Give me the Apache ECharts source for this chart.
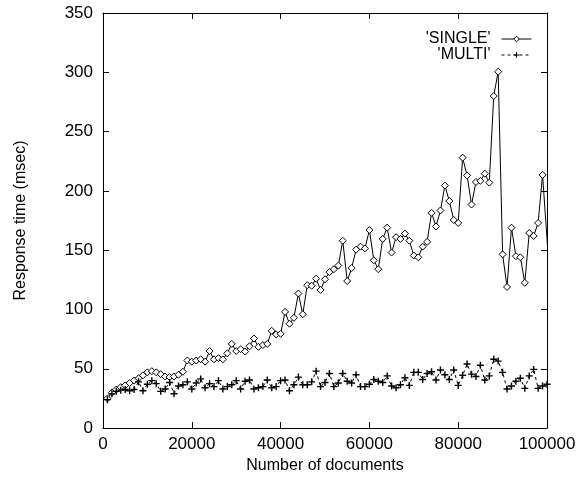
<!DOCTYPE html>
<html>
<head>
<meta charset="utf-8">
<script src="https://cdn.jsdelivr.net/npm/echarts@6/dist/echarts.min.js"></script>
<style>
  html, body { margin: 0; padding: 0; background: #fff; }
  #chart { width: 583px; height: 479px; }
</style>
</head>
<body>
<div id="chart"></div>
<script>
// 文档数量（横轴），每 1000 一个采样点
const docCounts = [
  1000, 2000, 3000, 4000, 5000, 6000, 7000, 8000, 9000, 10000,
  11000, 12000, 13000, 14000, 15000, 16000, 17000, 18000, 19000, 20000,
  21000, 22000, 23000, 24000, 25000, 26000, 27000, 28000, 29000, 30000,
  31000, 32000, 33000, 34000, 35000, 36000, 37000, 38000, 39000, 40000,
  41000, 42000, 43000, 44000, 45000, 46000, 47000, 48000, 49000, 50000,
  51000, 52000, 53000, 54000, 55000, 56000, 57000, 58000, 59000, 60000,
  61000, 62000, 63000, 64000, 65000, 66000, 67000, 68000, 69000, 70000,
  71000, 72000, 73000, 74000, 75000, 76000, 77000, 78000, 79000, 80000,
  81000, 82000, 83000, 84000, 85000, 86000, 87000, 88000, 89000, 90000,
  91000, 92000, 93000, 94000, 95000, 96000, 97000, 98000, 99000, 100000,
  101000
];

// 'SINGLE' 响应时间（msec），100000 处无采样点
const singleTimes = [
  25, 30, 32.5, 34.5, 36, 38, 40, 42, 44.5, 47,
  48, 47, 45.5, 43.5, 43, 43.5, 45, 47.5, 57, 56,
  57, 58, 56, 65, 58, 59, 58, 63, 71, 65,
  66.5, 64.5, 69, 75.5, 68.5, 70, 71, 82, 79, 79.5,
  98, 88, 93, 113.5, 96, 120.5, 120, 126, 116.5, 125.5,
  131.5, 134, 137, 158, 124, 135, 150.5, 153, 151.5, 167,
  141.5, 134, 159.5, 169, 148, 161, 159.5, 164, 158, 145.5,
  144, 153, 157, 181.5, 170, 183.5, 204.5, 191.5, 175.5, 173,
  228, 213, 188.5, 207.5, 208.5, 214.5, 207, 280, 300.5, 146.5,
  119, 169, 145, 144, 122.5, 164.5, 162, 173, 213.5, null,
  106
];

// 'MULTI' 响应时间（msec）
const multiTimes = [
  24, 29, 31, 32, 32.5, 31.5, 32.5, 39, 31.5, 37,
  40, 37.5, 31, 33, 38.5, 29, 35.5, 36.5, 39, 33,
  38, 41.5, 34, 37.5, 35, 40, 33, 35, 36.5, 40,
  33, 39.5, 40.5, 33, 34, 35, 40.5, 34, 35, 40,
  40.5, 31.5, 36.5, 43, 36.5, 36.5, 39, 48, 35, 38.5,
  46, 35, 38, 46, 39.5, 38, 45, 35, 35, 37,
  41, 39.5, 38.5, 44, 35.5, 34, 36.5, 42.5, 36, 47,
  47, 41, 46, 47.5, 40.5, 49, 45, 41, 49, 36,
  44.5, 54, 45.5, 43.5, 53, 40.5, 44, 58, 56.5, 47,
  33, 35.5, 39.5, 42, 33.5, 44, 49.5, 33.5, 35.5, 37,
  38
];

// 坐标轴刻度
const xTicks = [0, 20000, 40000, 60000, 80000, 100000];
const yTicks = [0, 50, 100, 150, 200, 250, 300, 350];

const FONT = 'Liberation Sans';
const PLUS = 'path://M4,0L6,0L6,4L10,4L10,6L6,6L6,10L4,10L4,6L0,6L0,4L4,4Z';

// 组装 [x, y] 数据对
function pairs(xs, ys) {
  return xs.map((x, i) => [x, ys[i]]);
}

// 坐标轴公共样式（gnuplot 风格：刻度朝内，四边框线）
function axisBase(show) {
  return {
    type: 'value',
    axisLine: { show: true, onZero: false, lineStyle: { color: '#000', width: 1 } },
    axisTick: { show: true, inside: true, length: 6, lineStyle: { color: '#000' } },
    splitLine: { show: false },
    axisLabel: {
      show: show,
      color: '#000',
      fontFamily: FONT,
      fontSize: 17,
      formatter: (v) => String(v)
    }
  };
}

const chart = echarts.init(document.getElementById('chart'), null, { renderer: 'canvas' });

const xMain = Object.assign(axisBase(true), {
  position: 'bottom',
  min: xTicks[0],
  max: xTicks[xTicks.length - 1],
  interval: xTicks[1] - xTicks[0],
  name: 'Number of documents',
  nameLocation: 'middle',
  nameGap: 26,
  nameTextStyle: { color: '#000', fontFamily: FONT, fontSize: 16 }
});
xMain.axisLabel.margin = 8;

const xTop = Object.assign(axisBase(false), {
  position: 'top',
  min: xTicks[0],
  max: xTicks[xTicks.length - 1],
  interval: xTicks[1] - xTicks[0]
});

const yMain = Object.assign(axisBase(true), {
  position: 'left',
  min: yTicks[0],
  max: yTicks[yTicks.length - 1],
  interval: yTicks[1] - yTicks[0],
  name: 'Response time (msec)',
  nameLocation: 'middle',
  nameRotate: 90,
  nameGap: 74,
  nameTextStyle: { color: '#000', fontFamily: FONT, fontSize: 16 }
});
yMain.axisLabel.margin = 10;

const yRight = Object.assign(axisBase(false), {
  position: 'right',
  min: yTicks[0],
  max: yTicks[yTicks.length - 1],
  interval: yTicks[1] - yTicks[0]
});

const legendBase = {
  orient: 'vertical',
  right: 51,
  align: 'right',
  itemWidth: 30,
  itemHeight: 7,
  padding: 0,
  lineStyle: { width: 1 },
  textStyle: { color: '#000', fontFamily: FONT, fontSize: 16, padding: [0, 6, 0, 0] }
};

chart.setOption({
  animation: false,
  backgroundColor: '#fff',
  grid: { left: 103, right: 36, top: 13, bottom: 46 },
  legend: [
    Object.assign({}, legendBase, {
      top: 31,
      data: ["'SINGLE'"],
      itemStyle: { color: '#fff', borderColor: '#000', borderWidth: 1 }
    }),
    Object.assign({}, legendBase, { top: 47, data: ["'MULTI'"] })
  ],
  xAxis: [xMain, xTop],
  yAxis: [yMain, yRight],
  series: [
    {
      name: "'SINGLE'",
      type: 'line',
      xAxisIndex: 0,
      yAxisIndex: 0,
      data: pairs(docCounts, singleTimes),
      connectNulls: true,
      clip: true,
      symbol: 'diamond',
      symbolSize: 7,
      showAllSymbol: true,
      lineStyle: { color: '#000', width: 1 },
      itemStyle: { color: '#fff', borderColor: '#000', borderWidth: 1 }
    },
    {
      name: "'MULTI'",
      type: 'line',
      xAxisIndex: 0,
      yAxisIndex: 0,
      data: pairs(docCounts, multiTimes),
      clip: true,
      symbol: PLUS,
      symbolSize: 7,
      showAllSymbol: true,
      lineStyle: { color: '#000', width: 1, type: [3, 3] },
      itemStyle: { color: '#000', borderWidth: 0 }
    }
  ]
});
</script>
</body>
</html>
